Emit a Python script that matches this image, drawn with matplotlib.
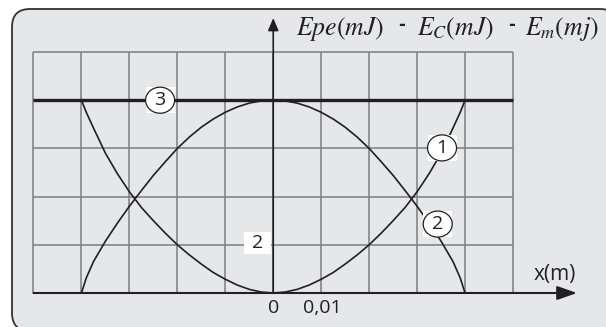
import numpy as np
import matplotlib.pyplot as plt
from matplotlib.patches import FancyBboxPatch, Ellipse, Rectangle
from matplotlib.transforms import IdentityTransform

plt.rcParams['mathtext.fontset'] = 'stix'
plt.rcParams['font.family'] = ['Open Sans', 'DejaVu Sans']

# ------------------------------------------------------------
# Data (x in m, energies in mJ)
# ------------------------------------------------------------
x_pts = [-0.04, -0.039, -0.0375, -0.035, -0.0325, -0.03, -0.0275, -0.025, -0.0225,
         -0.02, -0.0175, -0.015, -0.0125, -0.01, -0.0075, -0.005, -0.0025,
         0.0,
         0.0025, 0.005, 0.0075, 0.01, 0.0125, 0.015, 0.0175, 0.02,
         0.0225, 0.025, 0.0275, 0.03, 0.0325, 0.035, 0.0375, 0.039, 0.04]
epe = [8.0, 7.5, 6.85, 5.8, 4.95, 4.2, 3.55, 3.0, 2.48,
       2.0, 1.58, 1.2, 0.85, 0.57, 0.33, 0.15, 0.04,
       0.0,
       0.04, 0.15, 0.33, 0.57, 0.85, 1.2, 1.58, 2.0,
       2.48, 3.0, 3.55, 4.2, 4.95, 5.8, 6.85, 7.5, 8.0]
ec = [0.0, 0.62, 1.3, 2.15, 2.9, 3.6, 4.25, 4.88, 5.45,
      6.0, 6.47, 6.88, 7.22, 7.5, 7.72, 7.88, 7.97,
      8.0,
      7.97, 7.88, 7.72, 7.5, 7.22, 6.88, 6.47, 6.0,
      5.45, 4.88, 4.25, 3.6, 2.9, 2.15, 1.3, 0.62, 0.0]
em_x = [-0.05, 0.05]
em = [8.0, 8.0]

grid_x = [-0.05, -0.04, -0.03, -0.02, -0.01, 0.0, 0.01, 0.02, 0.03, 0.04, 0.05]
grid_y = [0, 2, 4, 6, 8, 10]
tick_x = [0.0, 0.01]
tick_x_labels = ['0', '0,01']
tick_y = [2]
tick_y_labels = ['2']

curve_labels = ['1', '2', '3']
label_x = [0.0352, 0.0343, -0.0236]
label_y = [6.02, 2.86, 8.0]

title_parts = [r'$Epe(mJ)$', r'$E_C(mJ)$', r'$E_m(mj)$']

# ------------------------------------------------------------
# Figure: one axes covering the whole canvas
# ------------------------------------------------------------
fig = plt.figure(figsize=(6.06, 3.27), dpi=100)
fig.patch.set_facecolor('white')
ax = fig.add_axes([0, 0, 1, 1])
ax.set_xlim(-0.056986, 0.069395)
ax.set_ylim(-1.411, 12.158)
ax.axis('off')

ink = '#231f20'

# rounded panel
frame = FancyBboxPatch((12, -4), 606, 322, boxstyle="round,pad=0,rounding_size=18",
                       transform=IdentityTransform(), facecolor='#e6e7e9',
                       edgecolor='#333333', linewidth=1.3, zorder=0)
ax.add_patch(frame)

# grid
ax.vlines(grid_x, grid_y[0], grid_y[-1], color='#858585', lw=1.2, zorder=1)
ax.hlines(grid_y, grid_x[0], grid_x[-1], color='#858585', lw=1.2, zorder=1)

# axes arrows
ax.annotate('', xy=(0.06335, 0), xytext=(-0.05, 0),
            arrowprops=dict(arrowstyle='-|>,head_length=1.2,head_width=0.42',
                            mutation_scale=10, lw=1.5, color=ink,
                            shrinkA=0, shrinkB=0), zorder=3)
ax.annotate('', xy=(0, 11.41), xytext=(0, 0),
            arrowprops=dict(arrowstyle='-|>,head_length=0.75,head_width=0.32',
                            mutation_scale=10, lw=1.2, color=ink,
                            shrinkA=0, shrinkB=0), zorder=3)

# curves
ax.plot(x_pts, epe, color=ink, lw=1.2, zorder=2)
ax.plot(x_pts, ec, color=ink, lw=1.2, zorder=2)
ax.plot(em_x, em, color=ink, lw=2.4, zorder=2, solid_capstyle='butt')

# circled curve labels
ew, eh = 0.00605, 1.08
for lab, lx, ly in zip(curve_labels, label_x, label_y):
    ax.add_patch(Rectangle((lx - ew / 2, ly - eh / 2), ew, eh,
                           facecolor='white', edgecolor='none', zorder=4))
    ax.add_patch(Ellipse((lx, ly), ew, eh, facecolor='white',
                         edgecolor=ink, lw=0.9, zorder=5))
    ax.text(lx, ly, lab, ha='center', va='center', fontsize=14,
            color=ink, zorder=6)

# y tick label on white box
for ty, tl in zip(tick_y, tick_y_labels):
    ax.add_patch(Rectangle((-0.00610, ty + 0.07 - 0.456), 0.00563, 0.913,
                           facecolor='white', edgecolor='none', zorder=4))
    ax.text(-0.003285, ty + 0.07, tl, ha='center', va='center',
            fontsize=14, color=ink, zorder=6)

# x tick labels
for tx, tl in zip(tick_x, tick_x_labels):
    ax.text(tx + (0.0002 if tx else 0), -0.62, tl, ha='center', va='center',
            fontsize=14, color=ink, zorder=6)

ax.text(0.05876, 0.78, 'x(m)', ha='center', va='center', fontsize=15,
        color=ink, zorder=6)

# y-axis title, in three pieces separated by short dashes
for part, px in zip(title_parts, [0.004745, 0.02992, 0.0525]):
    ax.text(px, 10.705, part, ha='left', va='baseline', fontsize=18.5,
            color=ink, zorder=6)
for dx in [0.02685, 0.04969]:
    ax.text(dx, 11.12, '-', ha='center', va='center', fontsize=12,
            fontweight='bold', family='DejaVu Sans', color=ink, zorder=6)

plt.savefig('out.png', dpi=100)
